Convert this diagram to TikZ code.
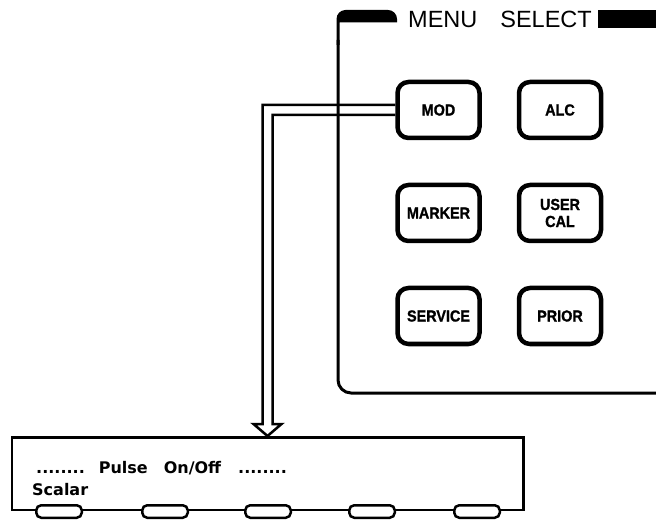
\documentclass[tikz,border=0pt]{standalone}
\usepackage{fontspec}
\setmainfont{Liberation Sans}
\newfontfamily\lcdfont{DejaVu Sans}
\newfontfamily\keyfont{Liberation Sans}[BoldFeatures={FakeBold=1.2, FakeStretch=0.9}]
\usepackage{xcolor}
\usepackage{tikz}
\usetikzlibrary{positioning, calc}
\definecolor{ink}{HTML}{000000}
\tikzset{
  menukey/.style={rectangle, rounded corners=11pt, draw=ink, line width=4.5pt,
    align=center, font=\keyfont\fontsize{16}{17}\selectfont\bfseries,
    minimum width=82pt, minimum height=56pt, inner sep=0pt},
  softkey/.style={rectangle, rounded corners=5pt, draw=ink, line width=2.5pt,
    fill=white, minimum width=45.5pt, minimum height=12.5pt, inner sep=0pt},
  lcd/.style={rectangle, draw=ink, line width=2.5pt,
    minimum width=511.5pt, minimum height=72.5pt},
  lcdtext/.style={font=\lcdfont\fontsize{16}{16}\selectfont\bfseries, inner sep=0pt},
  panelline/.style={draw=ink, line width=3pt, line join=round},
  pipe/.style={draw=ink, line width=2.5pt, line join=miter},
}

\begin{document}
\begin{tikzpicture}[x=1pt, y=-1pt]
  \useasboundingbox (0,0) rectangle (656,521);

  \node[menukey] (mod) at (438.5,110) {MOD};
  \node[menukey, right=35pt of mod] (alc) {ALC};
  \node[menukey, below=42.5pt of mod] (marker) {MARKER};
  \node[menukey, right=35pt of marker] (usercal) {USER\\CAL};
  \node[menukey, below=42.5pt of marker] (service) {SERVICE};
  \node[menukey, right=35pt of service] (prior) {PRIOR};

  \fill[ink, rounded corners=9pt] (336.5,45) -- (336.5,10) -- (397,10)
    [sharp corners] -- (397,22.5) -- (339.5,22.5) -- (339.5,45) -- cycle;
  \fill[ink] (598,10.5) rectangle (656,28.5);
  \draw[panelline, rounded corners=13pt] (338,40) -- (338,393) -- (656,393);
  \node[font=\fontsize{23.5}{23.5}\selectfont, anchor=base, inner sep=0pt] (title)
    at (500,28) {MENU\hspace{23pt}SELECT};

  \node[lcd] (display) at (267.5,473.5) {};
  \foreach \i/\x in {1/59,2/165,3/268,4/372,5/477}
    \node[softkey] (sk\i) at (\x,511.5) {};

  \node[lcdtext, anchor=base west] (pulse) at (36,473)
    {........\hspace{14pt}Pulse\hspace{16pt}On/Off\hspace{17pt}........};
  \node[lcdtext, anchor=base west] (scalar) at (32,495) {Scalar};

  \coordinate (tip) at (display.north);
  \draw[pipe] ($(mod.west)+(0,-5)$) -| ($(tip)+(-5,-12)$) -- ++(-9,0) -- (tip);
  \draw[pipe] ($(mod.west)+(0,5)$) -| ($(tip)+(5,-12)$) -- ++(9,0) -- (tip);
\end{tikzpicture}
\end{document}
